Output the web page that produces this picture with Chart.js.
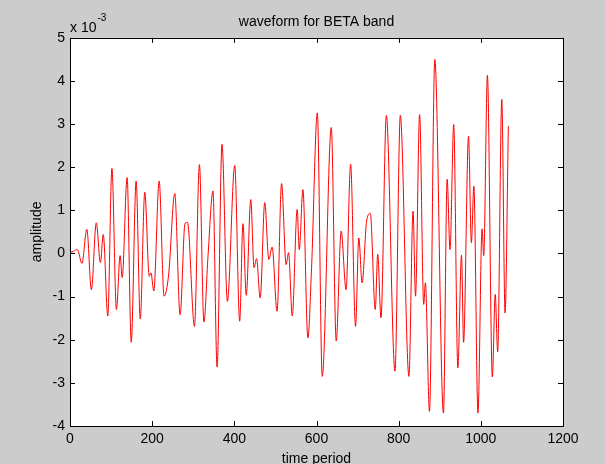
<!DOCTYPE html>
<html>
<head>
<meta charset="utf-8">
<script src="https://cdn.jsdelivr.net/npm/chart.js@4/dist/chart.umd.min.js"></script>
<style>
    html, body { margin: 0; padding: 0; background: #cccccc; }
    canvas { display: block; }
</style>
</head>
<body>
<canvas id="betaChart" width="605" height="464"></canvas>
<script>
// time samples where the waveform turns
const timePeriod = [0, 8, 18, 29, 41, 52, 64, 74, 81, 92, 102, 113, 122, 127, 139, 149, 161, 171, 182, 193, 197, 204,
    217, 229, 240, 255, 268, 280, 286, 303, 315, 326, 336, 348, 358, 370, 383, 401, 413, 421, 429, 440, 448, 454, 463,
    474, 484, 492, 504, 515, 526, 532, 541, 553, 558, 567, 579, 588, 602, 614, 636, 648, 660, 672, 683, 695, 703, 711,
    722, 731, 743, 749, 757, 770, 791, 804, 825, 835, 841, 851, 861, 865, 875, 888, 909, 918, 925, 934, 944, 953, 958,
    970, 977, 983, 993, 1003, 1007, 1016, 1028, 1035, 1041, 1051, 1059, 1067]

// amplitude, in units of 10^-3
const amplitude = [0.02, 0.05, 0.09, -0.23, 0.56, -0.84, 0.71, -0.21, 0.44, -1.45, 1.97, -1.30, -0.05, -0.56, 1.76, -2.06, 1.68, -1.52, 1.42, -0.53, -0.45, -0.87,
    1.68, -0.99, -0.50, 1.39, -1.42, 0.70, 0.72, -1.69, 2.06, -1.59, -0.05, 1.45, -2.63, 2.53, -1.11, 2.04, -1.57, 0.69, -0.97, 1.25, -0.33, -0.12, -1.03,
    1.18, -0.14, 0.15, -1.34, 1.62, -0.26, 0.02, -1.45, 1.02, 0.09, 1.48, -1.96, -0.33, 3.26, -2.85, 2.92, -2.03, 0.52, -0.84, 2.07, -1.69, 0.36, -0.68,
    0.75, 0.93, -1.30, -0.02, -1.49, 3.20, -2.73, 3.20, -2.85, 0.98, -0.99, 3.22, -1.18, -0.68, -3.66, 4.50, -3.70, 1.72, 0.09, 2.99, -2.65, -0.04, -2.06,
    2.72, 0.25, 1.56, -3.70, 0.57, -0.05, 4.13, -2.86, -0.95, -2.28, 3.57, -1.38, 2.95]

const xTicks = [0, 200, 400, 600, 800, 1000, 1200]
const yTicks = [-4, -3, -2, -1, 0, 1, 2, 3, 4, 5]

const fontFamily = "'Liberation Sans', Arial, sans-serif"

let points = []
for (let i = 0; i < timePeriod.length; i++) {
    points.push({ x: timePeriod[i], y: amplitude[i] })
}

// white axes box, frame, inward ticks and the exponent note
const matlabAxes = {
    id: 'matlabAxes',
    beforeDatasetsDraw(chart) {
        const { ctx, chartArea } = chart
        ctx.save()
        ctx.fillStyle = '#ffffff'
        ctx.fillRect(chartArea.left, chartArea.top, chartArea.right - chartArea.left, chartArea.bottom - chartArea.top)
        ctx.restore()
    },
    afterDraw(chart) {
        const { ctx, chartArea } = chart
        const xs = chart.scales.x
        const ys = chart.scales.y
        const len = 5
        ctx.save()
        ctx.strokeStyle = '#000000'
        ctx.lineWidth = 1
        ctx.beginPath()
        for (const v of xTicks) {
            const px = Math.round(xs.getPixelForValue(v)) + 0.5
            ctx.moveTo(px, chartArea.bottom)
            ctx.lineTo(px, chartArea.bottom - len)
            ctx.moveTo(px, chartArea.top)
            ctx.lineTo(px, chartArea.top + len)
        }
        for (const v of yTicks) {
            const py = Math.round(ys.getPixelForValue(v)) + 0.5
            ctx.moveTo(chartArea.left, py)
            ctx.lineTo(chartArea.left + len, py)
            ctx.moveTo(chartArea.right, py)
            ctx.lineTo(chartArea.right - len, py)
        }
        ctx.stroke()
        ctx.strokeRect(Math.round(chartArea.left) + 0.5, Math.round(chartArea.top) + 0.5,
            Math.round(chartArea.right - chartArea.left), Math.round(chartArea.bottom - chartArea.top))

        ctx.fillStyle = '#000000'
        ctx.textBaseline = 'alphabetic'
        ctx.font = '14px ' + fontFamily
        ctx.fillText('x 10', chartArea.left, chartArea.top - 6)
        const w = ctx.measureText('x 10').width
        ctx.font = '10px ' + fontFamily
        ctx.fillText('-3', chartArea.left + w + 1, chartArea.top - 17)
        ctx.restore()
    }
}

const config = {
    type: 'scatter',
    data: {
        datasets: [{
            label: 'beta',
            data: points,
            showLine: true,
            borderColor: '#ff0000',
            borderWidth: 1,
            pointRadius: 0,
            cubicInterpolationMode: 'monotone'
        }]
    },
    options: {
        responsive: false,
        animation: false,
        devicePixelRatio: 1,
        layout: { padding: { top: 0, right: 42, bottom: 0, left: 0 } },
        plugins: {
            legend: { display: false },
            tooltip: { enabled: false },
            title: {
                display: true,
                text: 'waveform for BETA band',
                fullSize: false,
                color: '#000000',
                font: { family: fontFamily, size: 14, weight: 'normal' },
                padding: { top: 14, bottom: 7 }
            }
        },
        scales: {
            x: {
                type: 'linear',
                min: 0,
                max: 1200,
                afterBuildTicks: scale => { scale.ticks = xTicks.map(v => ({ value: v })) },
                afterFit: scale => { scale.height = 38 },
                grid: { display: false, drawTicks: false },
                border: { display: false },
                ticks: {
                    autoSkip: false, maxRotation: 0, padding: 5, color: '#000000',
                    font: { family: fontFamily, size: 14 },
                    callback: value => String(value)
                },
                title: { display: true, text: 'time period', color: '#000000', font: { family: fontFamily, size: 14 }, padding: { top: 0, bottom: -4 } }
            },
            y: {
                min: -4,
                max: 5,
                afterBuildTicks: scale => { scale.ticks = yTicks.map(v => ({ value: v })) },
                afterFit: scale => { scale.width = 70 },
                grid: { display: false, drawTicks: false },
                border: { display: false },
                ticks: { padding: 5, color: '#000000', font: { family: fontFamily, size: 14 }, callback: value => String(value) },
                title: { display: true, text: 'amplitude', color: '#000000', font: { family: fontFamily, size: 14 }, padding: { top: 29, bottom: 0 } }
            }
        }
    },
    plugins: [matlabAxes]
}

const betaChart = new Chart(document.getElementById('betaChart'), config)
</script>
</body>
</html>
